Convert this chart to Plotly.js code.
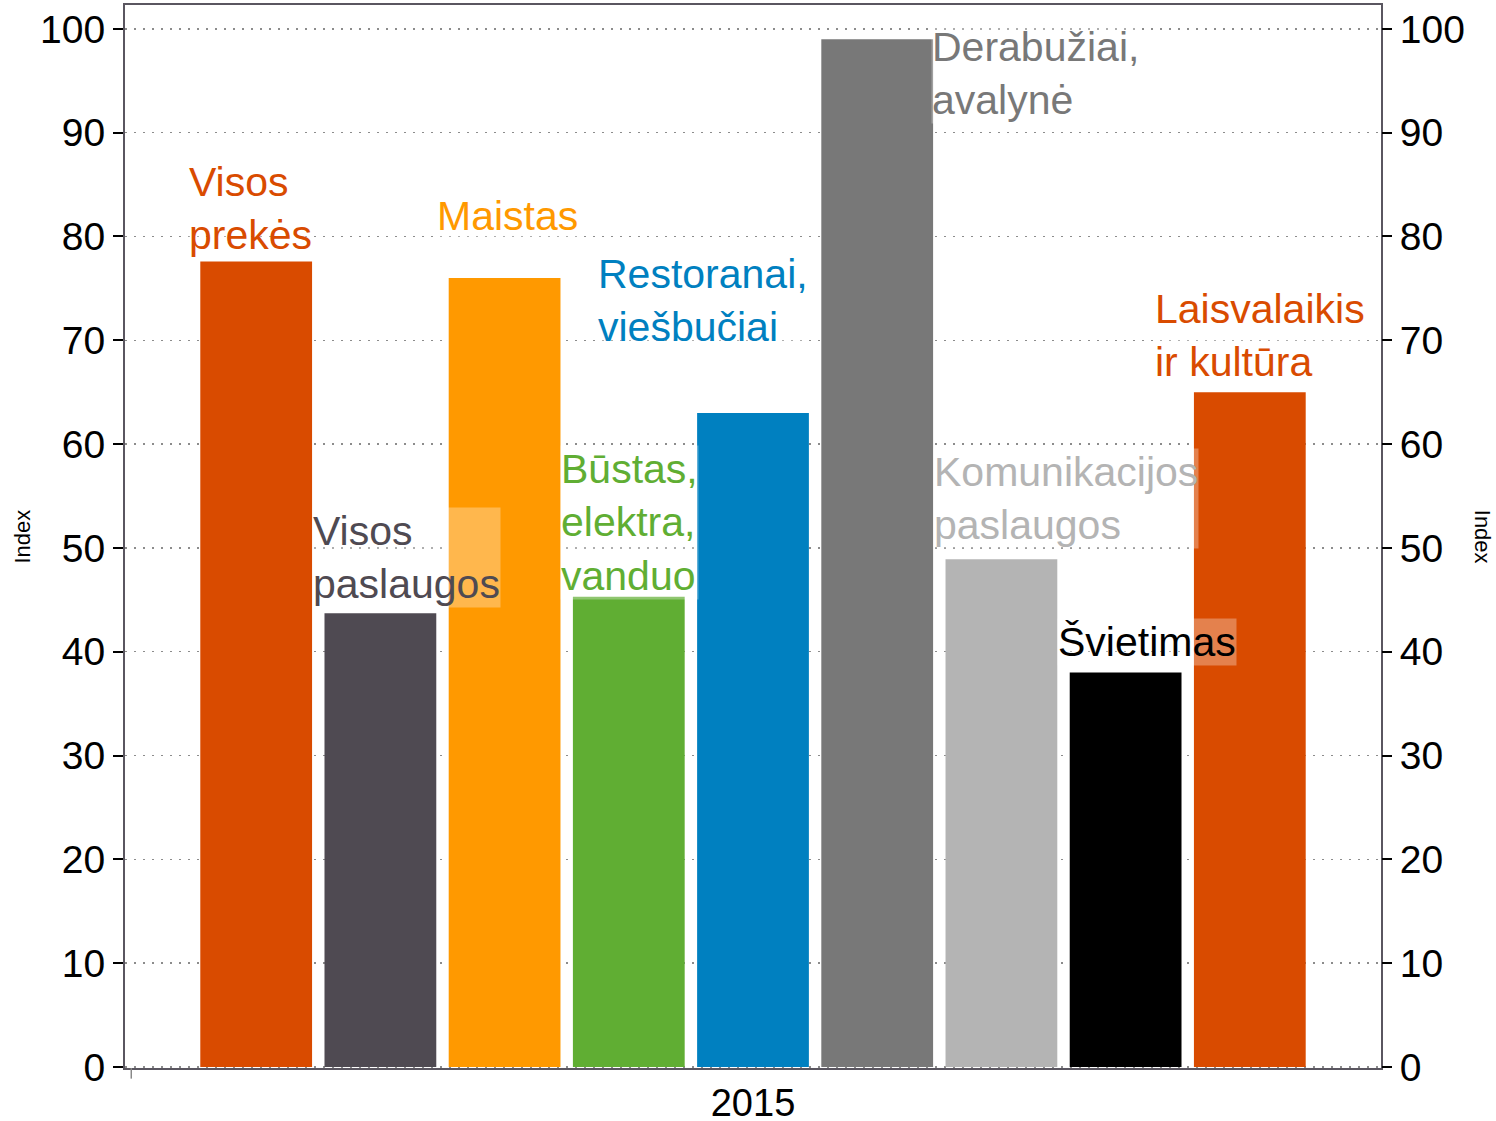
<!DOCTYPE html>
<html>
<head>
<meta charset="utf-8">
<script src="https://cdn.plot.ly/plotly-3.0.1.min.js"></script>
<style>html,body{margin:0;padding:0;background:#fff;}#chart{width:1496px;height:1121px;}</style>
</head>
<body>
<div id="chart"></div>
<script>
// ---- data ----
var year = ['2015'];
var seriesNames = ['Visos\nprekės', 'Visos\npaslaugos', 'Maistas', 'Būstas,\nelektra,\nvanduo', 'Restoranai,\nviešbučiai', 'Derabužiai,\navalynė', 'Komunikacijos\npaslaugos', 'Švietimas', 'Laisvalaikis\nir kultūra'];
var seriesValues = [77.6, 43.7, 76.0, 45.3, 63.0, 99.0, 48.9, 38.0, 65.0];
var yTickVals = [0, 10, 20, 30, 40, 50, 60, 70, 80, 90, 100];

// ---- styles ----
var colors = ['#d94b00', '#4f4a52', '#ff9900', '#60ae33', '#0080c0', '#787878', '#b4b4b4', '#000000', '#d94b00'];
// label placement tweaks (pixel shifts from default anchor)
var labelDx = [0, 0, 0, 0, -88, 122, 0, 0, -28];
var labelDy = [2, 5, 38, -3, 62, -85, 10, 6, 6];

var FONT = 'Liberation Sans, Arial, Helvetica, sans-serif';
var bargap = 0.11, bargroupgap = 0.1;
var n = seriesValues.length;
var slot = (1 - bargap) / n;

var traces = seriesValues.map(function (v, i) {
  return {
    type: 'bar', x: year, y: [v], name: seriesNames[i].replace(/\n/g, ' '),
    marker: {color: colors[i], line: {width: 0}}, hoverinfo: 'none', showlegend: false
  };
});
traces.push({type: 'scatter', x: year, y: [null], yaxis: 'y2', showlegend: false, hoverinfo: 'none'});

var annotations = seriesValues.map(function (v, i) {
  var center = -0.5 + bargap / 2 + slot * (i + 0.5);
  return {
    xref: 'x', yref: 'y', x: center - 0.55 * slot, y: v,
    xanchor: 'left', yanchor: 'bottom', align: 'left',
    xshift: labelDx[i], yshift: labelDy[i],
    text: seriesNames[i].replace(/\n/g, '<br>'),
    showarrow: false, bgcolor: 'rgba(255,255,255,0.3)', borderpad: 0,
    font: {family: FONT, size: 41, color: colors[i]}
  };
});
annotations.push({xref: 'paper', yref: 'paper', x: -0.082, y: 0.5, xanchor: 'center', yanchor: 'middle',
  text: 'Index', textangle: -90, showarrow: false, font: {family: FONT, size: 22, color: '#000'}});
annotations.push({xref: 'paper', yref: 'paper', x: 1.081, y: 0.5, xanchor: 'center', yanchor: 'middle',
  text: 'Index', textangle: 90, showarrow: false, font: {family: FONT, size: 22, color: '#000'}});

var yAxisCommon = {
  range: [-0.1, 102.3], tickvals: yTickVals, ticks: 'outside', ticklen: 10, tickwidth: 2, tickcolor: '#000',
  tickfont: {family: FONT, size: 39, color: '#000'}, zeroline: false, fixedrange: true
};

var layout = {
  width: 1496, height: 1121,
  margin: {l: 125, r: 115, t: 5, b: 53},
  paper_bgcolor: '#fff', plot_bgcolor: '#fff',
  barmode: 'group', bargap: bargap, bargroupgap: bargroupgap,
  font: {family: FONT},
  xaxis: {
    type: 'category', range: [-0.5, 0.5], showline: true, mirror: true, linecolor: '#5a5660', linewidth: 2,
    ticks: '', ticklabelstandoff: 0, tickfont: {family: FONT, size: 38, color: '#000'}, showgrid: false, zeroline: false
  },
  yaxis: Object.assign({}, yAxisCommon, {
    showline: true, mirror: true, linecolor: '#5a5660', linewidth: 2,
    showgrid: true, gridcolor: '#8c8c8c', gridwidth: 1.5, griddash: '2px,7px'
  }),
  yaxis2: Object.assign({}, yAxisCommon, {
    overlaying: 'y', side: 'right', showgrid: false, showline: false
  }),
  annotations: annotations,
  shapes: [{type: 'line', xref: 'paper', yref: 'paper', x0: 0.005, x1: 0.005, y0: 0, y1: -0.01,
    line: {color: '#888', width: 1.5}}]
};

Plotly.newPlot('chart', traces, layout, {displayModeBar: false, staticPlot: true});
</script>
</body>
</html>
